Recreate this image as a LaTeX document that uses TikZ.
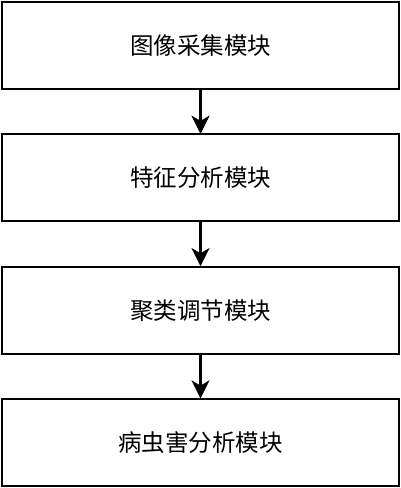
\documentclass[tikz,border=0pt]{standalone}
\usepackage{fontspec}
\newfontfamily\cjk{Noto Sans CJK SC}
\begin{document}
\begin{tikzpicture}[x=1pt,y=-1pt,
  modbox/.style={draw=black, line width=2.2pt, minimum width=397pt, minimum height=87pt, inner sep=0pt, font=\cjk\fontsize{23.5}{28}\selectfont},
  conn/.style={line width=2.2pt},
  tiphead/.style={fill=black, draw=black, line width=0.5pt, line join=miter}]
\useasboundingbox (0,0) rectangle (400,488);
\node[modbox] (m1) at (200.5,45.5) {图像采集模块};
\node[modbox] (m2) at (200.5,177.8) {特征分析模块};
\node[modbox] (m3) at (200.5,310.2) {聚类调节模块};
\node[modbox] (m4) at (200.5,442.5) {病虫害分析模块};
\foreach \a/\b in {m1/m2, m2/m3, m3/m4}{
  \draw[conn] (\a.south) -- ([yshift=10pt]\b.north);
  \filldraw[tiphead] (\b.north) -- ++(-8.5,-17) -- ++(8.5,5) -- ++(8.5,-5) -- cycle;
}
\end{tikzpicture}
\end{document}
